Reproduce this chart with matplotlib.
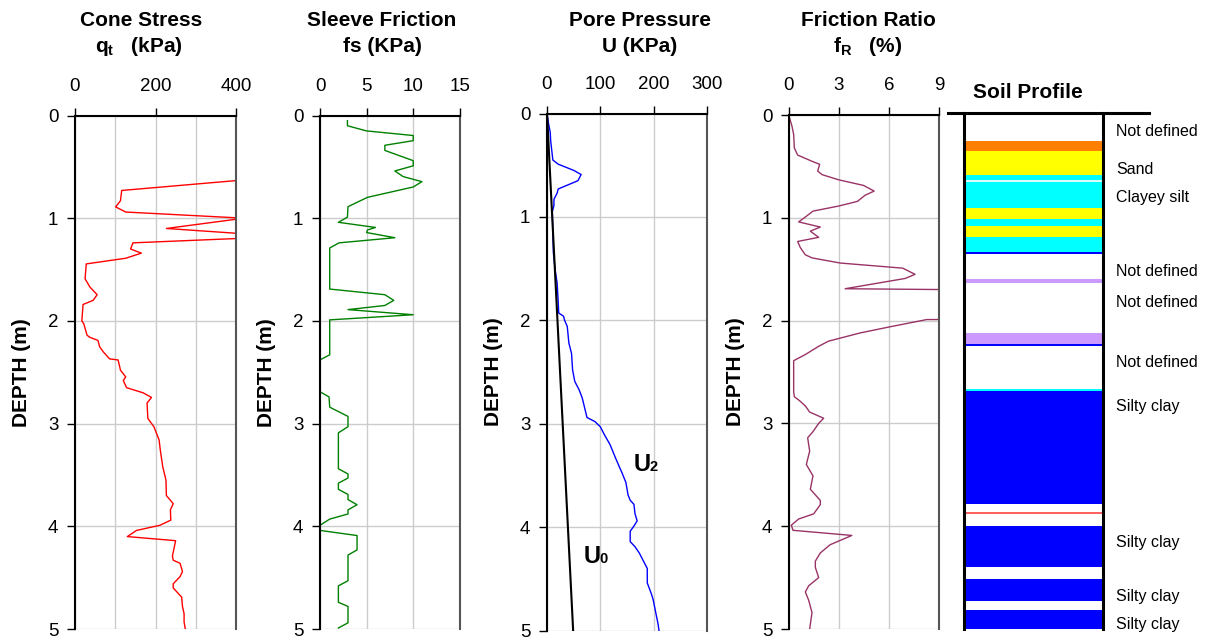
import matplotlib
matplotlib.use("Agg")
import matplotlib.pyplot as plt
from matplotlib.ticker import MultipleLocator

plt.rcParams['font.family'] = ['Liberation Sans', 'DejaVu Sans']
plt.rcParams['mathtext.fontset'] = 'custom'
plt.rcParams['mathtext.rm'] = 'Liberation Sans'
plt.rcParams['mathtext.bf'] = 'Liberation Sans:bold'
plt.rcParams['mathtext.it'] = 'Liberation Sans:italic'

# ---- Cone stress qt (kPa) ----
qt_depth = [0.60, 0.73, 0.83, 0.89, 0.94, 1.00, 1.10, 1.16, 1.19, 1.24, 1.30, 1.34, 1.39,
            1.445, 1.59, 1.67, 1.745, 1.80, 1.84, 2.00, 2.03, 2.14, 2.16, 2.19, 2.25, 2.30,
            2.37, 2.38, 2.48, 2.545, 2.58, 2.65, 2.70, 2.745, 2.80, 2.95, 3.03, 3.16, 3.26,
            3.42, 3.55, 3.70, 3.78, 3.84, 3.94, 3.99, 4.04, 4.10, 4.14, 4.29, 4.33, 4.36,
            4.44, 4.49, 4.56, 4.60, 4.69, 4.78, 4.85, 4.93, 5.00]
qt = [500, 116, 113, 101, 126, 420, 227, 450, 450, 144, 138, 165, 126,
      28, 25, 37, 55, 45, 20, 17, 22, 30, 37, 57, 61, 70,
      86, 107, 113, 126, 120, 128, 169, 190, 179, 181, 196, 209, 212,
      218, 226, 227, 244, 237, 238, 211, 153, 130, 250, 242, 244, 261,
      267, 261, 244, 244, 265, 267, 271, 271, 274]

# ---- Sleeve friction fs (kPa) ----
fs_depth = [0.05, 0.10, 0.15, 0.195, 0.245, 0.29, 0.34, 0.44, 0.49, 0.54, 0.595, 0.644,
            0.696, 0.797, 0.888, 0.99, 1.04, 1.09, 1.115, 1.14, 1.19, 1.24, 1.29, 1.69,
            1.745, 1.80, 1.85, 1.89, 1.94, 1.99, 2.33, 2.38, 2.69, 2.74, 2.84, 2.93, 3.03,
            3.09, 3.44, 3.49, 3.53, 3.58, 3.64, 3.69, 3.74, 3.79, 3.84, 3.88, 3.93, 3.99,
            4.04, 4.09, 4.23, 4.28, 4.53, 4.58, 4.74, 4.78, 4.94, 4.99]
fs = [2.94, 2.94, 4.98, 9.99, 9.99, 6.95, 6.95, 9.99, 9.99, 8.02, 8.91, 10.92,
      9.99, 5.08, 3.0, 2.94, 1.97, 5.94, 5.08, 5.0, 8.02, 2.04, 1.04, 1.04,
      6.95, 7.9, 6.95, 3.0, 9.99, 1.04, 1.04, 0.0, 0.0, 0.97, 1.04, 3.0, 3.0,
      1.97, 1.97, 3.0, 3.0, 1.97, 1.97, 3.0, 3.0, 3.97, 3.0, 3.0, 1.04, 0.0,
      0.0, 3.97, 3.97, 3.0, 3.0, 1.97, 1.97, 3.0, 3.0, 1.97]

# ---- Pore pressure U2 and hydrostatic U0 (kPa) ----
u2_depth = [0.0, 0.10, 0.18, 0.27, 0.45, 0.49, 0.55, 0.59, 0.65, 0.73, 0.77, 0.83, 0.89,
            0.95, 1.35, 1.54, 1.64, 1.82, 1.93, 1.96, 2.00, 2.06, 2.22, 2.32, 2.48, 2.59,
            2.67, 2.75, 2.94, 2.98, 3.03, 3.11, 3.20, 3.35, 3.48, 3.57, 3.69, 3.74, 3.78,
            3.87, 3.94, 3.99, 4.04, 4.14, 4.19, 4.25, 4.32, 4.40, 4.54, 4.65, 4.70, 4.83,
            4.93, 5.00]
u2 = [0, 3, 6, 7, 11, 21, 50, 64, 58, 21, 19, 13, 13,
      10, 12, 16, 19, 21, 22, 31, 33, 38, 41, 46, 48, 52,
      60, 66, 75, 90, 100, 108, 118, 130, 141, 148, 152, 156, 163,
      165, 169, 163, 156, 156, 165, 173, 180, 188, 188, 196, 199, 204,
      208, 210]
u0_depth = [0, 5]
u0 = [0, 49]

# ---- Friction ratio fR (%) ----
fr_depth = [0.01, 0.11, 0.19, 0.32, 0.39, 0.45, 0.48, 0.545, 0.58, 0.63, 0.685, 0.74,
            0.78, 0.84, 0.886, 0.935, 0.98, 1.04, 1.09, 1.13, 1.19, 1.23, 1.29, 1.36,
            1.39, 1.44, 1.49, 1.55, 1.59, 1.69, 1.72, 1.98, 1.99, 2.06, 2.12, 2.20, 2.25,
            2.33, 2.39, 2.69, 2.74, 2.78, 2.83, 2.89, 2.95, 3.00, 3.08, 3.14, 3.27, 3.40,
            3.51, 3.64, 3.75, 3.79, 3.88, 3.93, 3.99, 4.04, 4.09, 4.18, 4.26, 4.34, 4.40,
            4.50, 4.58, 4.64, 4.72, 4.84, 5.00]
fr = [0.0, 0.18, 0.28, 0.32, 0.52, 1.38, 1.84, 1.72, 1.98, 2.97, 4.47, 5.11,
      4.57, 4.11, 2.97, 1.44, 1.08, 0.58, 1.88, 1.28, 1.78, 0.52, 0.68, 0.98,
      1.38, 3.07, 6.83, 7.56, 6.97, 3.37, 25.0, 25.0, 8.26, 6.07, 4.27, 2.37, 1.78,
      0.98, 0.28, 0.28, 0.32, 0.64, 0.98, 1.24, 2.08, 1.78, 1.44, 1.12, 1.24, 1.04,
      1.44, 1.28, 1.88, 1.88, 1.48, 0.58, 0.14, 0.24, 3.77, 2.47, 1.88, 1.58, 1.58,
      1.78, 1.18, 0.98, 1.18, 1.38, 1.24]

# ---- Soil profile ----
layer_top = [0.268, 0.365, 0.597, 0.650, 0.917, 1.023, 1.091, 1.197, 1.343, 1.604, 2.127,
             2.233, 2.674, 2.688, 4.000, 4.517, 4.820]
layer_bot = [0.365, 0.597, 0.917, 0.662, 1.023, 1.091, 1.197, 1.343, 1.362, 1.643, 2.233,
             2.252, 2.688, 3.792, 4.400, 4.730, 5.000]
layer_color = ['#ff8000', '#ffff00', '#00ffff', '#d8ffff', '#ffff00', '#00ffff', '#ffff00',
               '#00ffff', '#0000ff', '#cc99ff', '#cc99ff', '#0000ff', '#00ffff', '#0000ff',
               '#0000ff', '#0000ff', '#0000ff']
thin_line_depth = [3.878]
thin_line_color = ['#ff5050']
soil_label_depth = [0.178, 0.542, 0.817, 1.536, 1.839, 2.414, 2.840, 4.163, 4.689, 4.953]
soil_labels = ['Not defined', 'Sand', 'Clayey silt', 'Not defined', 'Not defined',
               'Not defined', 'Silty clay', 'Silty clay', 'Silty clay', 'Silty clay']

W, H = 1210, 642
fig = plt.figure(figsize=(W / 100, H / 100), dpi=100)


def px_axes(left, right, top, bottom):
    return fig.add_axes([left / W, 1 - bottom / H, (right - left) / W, (bottom - top) / H])


def style(ax, xmax, ticks, minor=None):
    ax.set_xlim(0, xmax)
    ax.set_ylim(5, 0)
    ax.set_xticks(ticks)
    ax.set_yticks(range(6))
    if minor:
        ax.xaxis.set_minor_locator(MultipleLocator(minor))
        ax.tick_params(axis='x', which='minor', length=0)
    ax.tick_params(axis='x', which='major', top=True, bottom=False, labeltop=True,
                   labelbottom=False, direction='out', length=6, width=1,
                   labelsize=13.5, pad=9)
    ax.tick_params(axis='y', left=True, right=False, direction='out', length=6,
                   width=1, labelsize=13.5, pad=6)
    ax.grid(True, which='both', color='#cccccc', lw=1)
    ax.set_axisbelow(True)
    ax.spines['bottom'].set_visible(False)
    ax.spines['left'].set_linewidth(1.5)
    ax.spines['top'].set_linewidth(1.5)
    ax.spines['right'].set_linewidth(1.5)
    ax.spines['right'].set_color('#555555')
    ax.set_ylabel('DEPTH (m)', fontsize=15, fontweight='bold')
    width_px = ax.get_position().width * W
    ax.yaxis.set_label_coords(-44 / width_px, 0.5)


ax1 = px_axes(75, 236, 115.5, 629)
ax1.plot(qt, qt_depth, color='#ff0000', lw=1)
style(ax1, 400, [0, 200, 400], minor=100)

ax2 = px_axes(320, 460, 115.5, 629)
ax2.plot(fs, fs_depth, color='#008000', lw=1)
style(ax2, 15, [0, 5, 10, 15])

ax3 = px_axes(547, 707, 113.5, 630.5)
ax3.plot(u2, u2_depth, color='#0000ff', lw=1)
ax3.plot(u0, u0_depth, color='black', lw=1.5)
style(ax3, 300, [0, 100, 200, 300])
ax3.text(163, 3.46, 'U', fontsize=17, fontweight='bold', va='baseline')
ax3.annotate('2', xy=(163, 3.46), xytext=(11.5, 0), textcoords='offset points',
             fontsize=10.5, fontweight='bold', va='baseline')
ax3.text(69, 4.35, 'U', fontsize=17, fontweight='bold', va='baseline')
ax3.annotate('0', xy=(69, 4.35), xytext=(11.5, 0), textcoords='offset points',
             fontsize=10.5, fontweight='bold', va='baseline')

ax4 = px_axes(789, 939, 115, 629)
ax4.plot(fr, fr_depth, color='#993366', lw=1)
style(ax4, 9, [0, 3, 6, 9])

# titles
titles = [('Cone Stress', r'$\mathbf{q}_\mathbf{t}$   (kPa)', 141, 139),
          ('Sleeve Friction', 'fs (KPa)', 382, 382),
          ('Pore Pressure', 'U (KPa)', 640, 640),
          ('Friction Ratio', r'$\mathbf{f}_\mathbf{R}$   (%)', 868, 868)]
for t1, t2, x1, x2 in titles:
    fig.text(x1 / W, 1 - 20 / H, t1, ha='center', va='center', fontsize=15,
             fontweight='bold')
    fig.text(x2 / W, 1 - 47 / H, t2, ha='center', va='center', fontsize=15,
             fontweight='bold')

# soil profile column
ax5 = px_axes(948, 1149, 113.3, 629)
ax5.set_xlim(0, 1)
ax5.set_ylim(5, 0)
ax5.axis('off')
box_l, box_r = 0.0796, 0.771
for top, bot, c in zip(layer_top, layer_bot, layer_color):
    ax5.axhspan(top, bot, xmin=box_l + 0.006, xmax=box_r - 0.006, facecolor=c,
                edgecolor='none', lw=0)
ax5.hlines(thin_line_depth, box_l + 0.006, box_r - 0.006, colors=thin_line_color, lw=1.3)
ax5.plot([box_l, box_l], [0, 5], color='black', lw=2.2, clip_on=False)
ax5.plot([box_r, box_r], [0, 5], color='black', lw=2.2, clip_on=False)
ax5.plot([0, 1], [0, 0], color='black', lw=2.2, clip_on=False)
for d, lab in zip(soil_label_depth, soil_labels):
    ax5.text(0.836, d, lab, fontsize=11.5, va='center', ha='left', clip_on=False)
fig.text(1028 / W, 1 - 92 / H, 'Soil Profile', ha='center', va='center', fontsize=15,
         fontweight='bold')

fig.savefig('out.png', dpi=100)
